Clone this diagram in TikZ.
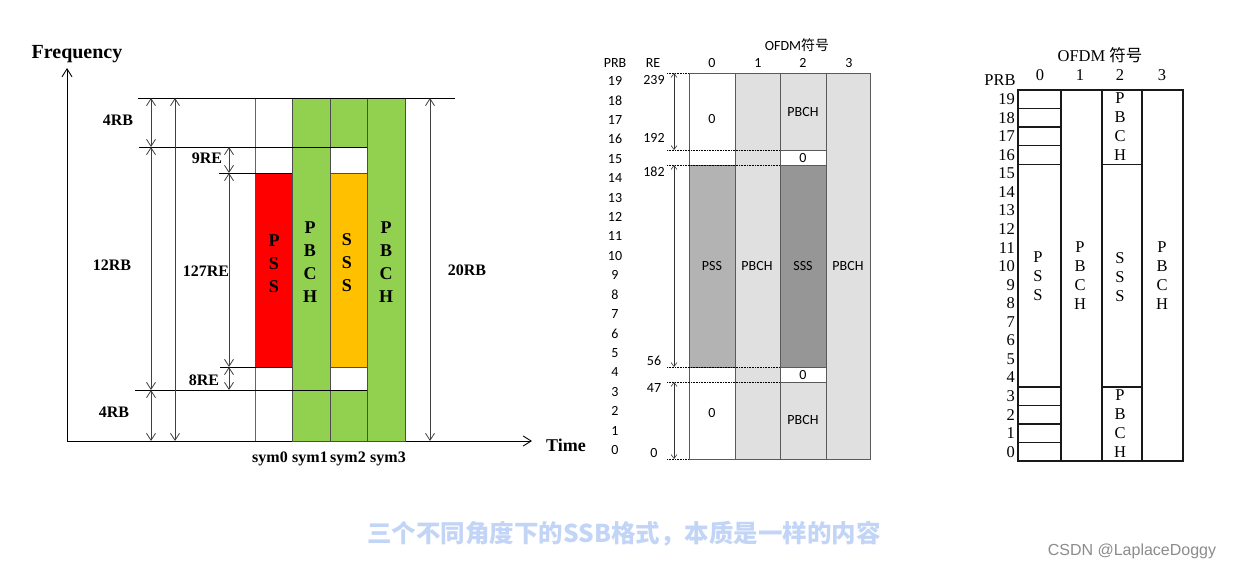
\documentclass[tikz,border=0pt]{standalone}
\usepackage{fontspec}
\setmainfont{Liberation Serif}
\newfontfamily\calfont{Carlito}
\newfontfamily\cjkfont{Noto Sans CJK SC}
\newfontfamily\markfont{Liberation Sans}
\usetikzlibrary{arrows.meta, positioning, calc}

\definecolor{pbchgreen}{HTML}{92D050}
\definecolor{pssred}{HTML}{FF0000}
\definecolor{sssorange}{HTML}{FFC000}
\definecolor{cellgray}{HTML}{E0E0E0}
\definecolor{pssgray}{HTML}{B3B3B3}
\definecolor{sssgray}{HTML}{969696}
\definecolor{gridline}{HTML}{5A5A5A}
\definecolor{capblue}{HTML}{C2D5F7}

\begin{document}
\begin{tikzpicture}[
		x=1pt, y=-1pt,
		lbl/.style={font=\fontsize{16}{18}\selectfont\bfseries, inner sep=0pt},
		vtxt/.style={font=\fontsize{18}{23}\selectfont\bfseries, align=center, inner sep=0pt},
		blk/.style={draw=black!70, line width=0.8pt},
		lvl/.style={black, line width=0.8pt},
		dim/.style={black!75, line width=0.8pt, {Straight Barb[length=7pt,width=9pt]}-{Straight Barb[length=7pt,width=9pt]}},
		cal/.style={font=\calfont\fontsize{14}{15}\selectfont, inner sep=0pt},
		cell/.style={draw=gridline, line width=0.9pt},
		lead/.style={densely dotted, line width=0.6pt},
		rearr/.style={black!80, line width=0.6pt, {Straight Barb[length=4pt,width=6pt]}-{Straight Barb[length=4pt,width=6pt]}},
		tnr/.style={font=\fontsize{16.5}{19}\selectfont, inner sep=0pt, align=center},
		rgrid/.style={draw=black!90, line width=1.4pt}
		]
		\fill[white] (0,0) rectangle (1235,570);
		\useasboundingbox (0,0) rectangle (1235,570);
		
		% ---- left: frequency / time view ----
		\coordinate (orig) at (67,441);
		\coordinate (ftip) at (67,68);
		\coordinate (ttip) at (532,441);
		\draw[line width=0.9pt, {Straight Barb[length=8pt,width=10pt]}-{Straight Barb[length=8pt,width=10pt]}] (ftip) -- (orig) -- (ttip);
		\node[font=\fontsize{20}{22}\selectfont\bfseries] (freq) at (77,54) {Frequency};
		\node[font=\fontsize{18}{20}\selectfont\bfseries] (time) at (566,445) {Time};
		
		% blocks
		\draw[black!60, line width=0.8pt] (255,98) -- (255,441);
		\filldraw[blk, fill=pssred] (255,173) rectangle (292,367);
		\filldraw[blk, fill=pbchgreen] (292,98) rectangle (330,441);
		\filldraw[blk, fill=pbchgreen] (330,98) rectangle (367,147);
		\filldraw[blk, fill=sssorange] (330,173) rectangle (367,367);
		\filldraw[blk, fill=pbchgreen] (330,390) rectangle (367,441);
		\filldraw[blk, fill=pbchgreen] (367,98) rectangle (405,441);
		\node[vtxt] (pss) at (274,264) {P\\S\\S};
		\node[vtxt] (pbcha) at (310,262) {P\\B\\C\\H};
		\node[vtxt] (sss) at (347,263) {S\\S\\S};
		\node[vtxt] (pbchb) at (386,262) {P\\B\\C\\H};
		
		% level lines
		\draw[lvl] (138,98) -- (455,98);
		\draw[lvl] (139,147) -- (367,147);
		\draw[lvl] (219,173) -- (292,173);
		\draw[lvl] (220,367) -- (292,367);
		\draw[lvl] (135,390) -- (367,390);
		
		% dimension arrows
		\coordinate (a0) at (151,98);  \coordinate (a1) at (151,147);
		\coordinate (a2) at (151,390); \coordinate (a3) at (151,441);
		\coordinate (b0) at (175,98);  \coordinate (b1) at (175,441);
		\coordinate (c0) at (229,147); \coordinate (c1) at (229,173);
		\coordinate (c2) at (229,367); \coordinate (c3) at (229,390);
		\coordinate (d0) at (430,98);  \coordinate (d1) at (430,441);
		\draw[dim] (a0) -- (a1);
		\draw[dim] (a1) -- (a2);
		\draw[dim] (a2) -- (a3);
		\draw[dim] (b0) -- (b1);
		\draw[dim] (c0) -- (c1);
		\draw[dim] (c1) -- (c2);
		\draw[dim] (c2) -- (c3);
		\draw[dim] (d0) -- (d1);
		\node[lbl] (rbtop) at (118,120) {4RB};
		\node[lbl] (rbmid) at (112,265) {12RB};
		\node[lbl] (rbbot) at (114,412) {4RB};
		\node[lbl] (retop) at (207,158) {9RE};
		\node[lbl] (remid) at (206,271) {127RE};
		\node[lbl] (rebot) at (204,380) {8RE};
		\node[lbl] (rball) at (467,270) {20RB};
		\node[lbl] (syma) at (270,459) {sym0};
		\node[lbl] (symb) at (310,459) {sym1};
		\node[lbl] (symc) at (348,459) {sym2};
		\node[lbl] (symd) at (388,459) {sym3};
		
		% ---- middle: PRB / RE grid ----
		\fill[cellgray] (735,73) rectangle (780,459);
		\fill[cellgray] (826,73) rectangle (870,459);
		\filldraw[cell, fill=cellgray] (780,73) rectangle (826,150);
		\draw[cell] (780,150) rectangle (826,165);
		\filldraw[cell, fill=sssgray] (780,165) rectangle (826,367);
		\draw[cell] (780,367) rectangle (826,382);
		\filldraw[cell, fill=cellgray] (780,382) rectangle (826,459);
		\filldraw[cell, fill=pssgray] (689,165) rectangle (735,367);
		\draw[cell] (689,73) rectangle (870,459);
		\draw[cell] (735,73) -- (735,459);
		\draw[cell] (826,73) -- (826,459);
		\foreach \y in {150,165,367,382} \draw[lead] (667,\y) -- (780,\y);
		\foreach \y in {73,459} \draw[lead] (667,\y) -- (689,\y);
		\coordinate (e0) at (674,73);  \coordinate (e1) at (674,150);
		\coordinate (e2) at (674,165); \coordinate (e3) at (674,367);
		\coordinate (e4) at (674,382); \coordinate (e5) at (674,459);
		\draw[rearr] (e0) -- (e1);
		\draw[rearr] (e2) -- (e3);
		\draw[rearr] (e4) -- (e5);
		
		\node[cal] (mtitle) at (797,45) {OFDM{\cjkfont\fontsize{14}{15}\selectfont 符号}};
		\node[cal] (mprb) at (615,63) {PRB};
		\node[cal] (mre) at (653,63) {RE};
		\foreach \i/\x in {0/712,1/758,2/803,3/849} \node[cal] (msym\i) at (\x,63) {\i};
		\foreach \k in {0,...,19} \node[cal] (m\k) at (615,{450-19.42*\k}) {\k};
		\foreach \v/\y in {239/80,192/138,182/172,56/361,47/388,0/453} \node[cal] (re\v) at (654,\y) {\v};
		\node[cal] (zra) at (712,119) {0};
		\node[cal] (pbtop) at (803,112) {PBCH};
		\node[cal] (zrb) at (803,158) {0};
		\node[cal] (mpss) at (712,266) {PSS};
		\node[cal] (mpa) at (757,266) {PBCH};
		\node[cal] (msss) at (803,266) {SSS};
		\node[cal] (mpb) at (848,266) {PBCH};
		\node[cal] (zrc) at (803,375) {0};
		\node[cal] (zrd) at (712,413) {0};
		\node[cal] (pbbot) at (803,420) {PBCH};
		
		% ---- right: PRB view ----
		\draw[rgrid] (1018,90) rectangle (1183,461);
		\foreach \x in {1061,1102,1142} \draw[rgrid] (\x,90) -- (\x,461);
		\foreach \k in {1,2,3,4,16,17,18,19} \draw[rgrid] (1018,{461-18.55*\k}) -- (1061,{461-18.55*\k});
		\foreach \k in {4,16} \draw[rgrid] (1102,{461-18.55*\k}) -- (1142,{461-18.55*\k});
		\foreach \k in {0,...,19} \node[tnr, anchor=east] (p\k) at (1015,{461-18.55*(\k+0.5)}) {\k};
		\node[tnr] (rtitle) at (1100,55) {OFDM {\cjkfont 符号}};
		\node[tnr] (rprb) at (1000,80) {PRB};
		\foreach \i/\x in {0/1040,1/1080,2/1120,3/1162} \node[tnr] (rsym\i) at (\x,75) {\i};
		\node[tnr] (rpss) at (1038,276) {P\\S\\S};
		\node[tnr] (rpa) at (1080,276) {P\\B\\C\\H};
		\node[tnr] (rpb) at (1120,127) {P\\B\\C\\H};
		\node[tnr] (rsss) at (1120,277) {S\\S\\S};
		\node[tnr] (rpc) at (1120,424) {P\\B\\C\\H};
		\node[tnr] (rpd) at (1162,276) {P\\B\\C\\H};
		
		% ---- caption ----
		\node[font=\cjkfont\bfseries\fontsize{24.5}{26}\selectfont, text=capblue] (cap) at (624,534) {三个不同角度下的SSB格式，本质是一样的内容};
		\node[font=\markfont\fontsize{16}{18}\selectfont, text=black!45] (mark) at (1132,551) {CSDN @LaplaceDoggy};
	\end{tikzpicture}
\end{document}
